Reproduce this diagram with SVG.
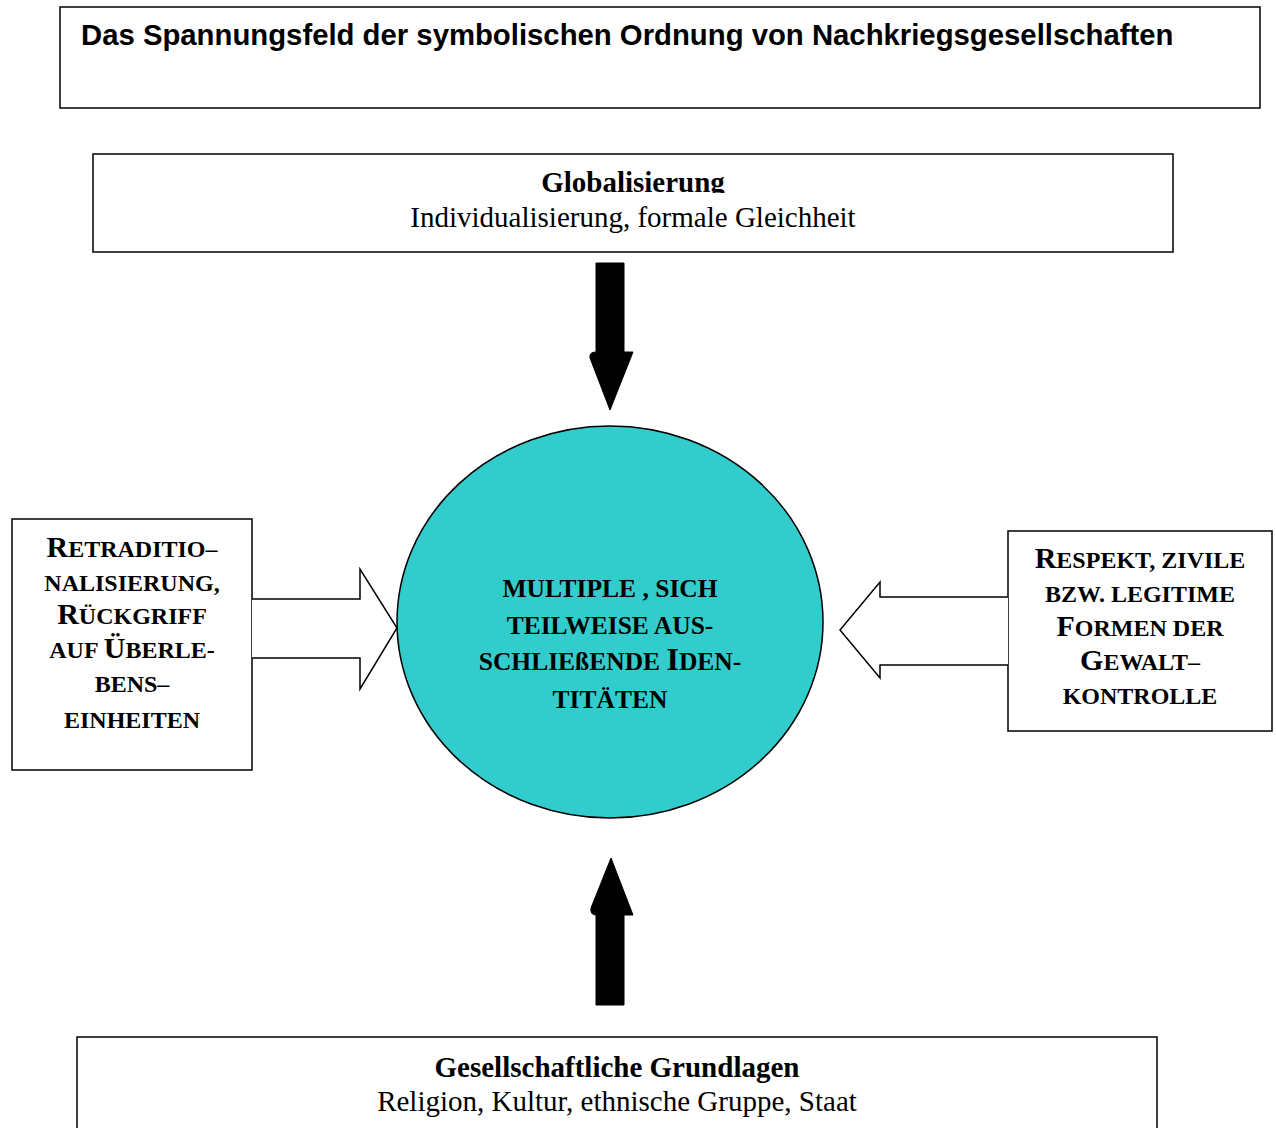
<svg xmlns="http://www.w3.org/2000/svg" width="1276" height="1128" viewBox="0 0 1276 1128">
  <style>
    .box { fill: #fff; stroke: #000; stroke-width: 1.5; }
    .title { font-family: "Liberation Sans", Arial, sans-serif; font-weight: bold; font-size: 29.3px; }
    .serif { font-family: "Liberation Serif", "Times New Roman", serif; font-size: 29px; text-anchor: middle; }
    .b { font-weight: bold; }
    .sc { font-family: "Liberation Serif", "Times New Roman", serif; font-weight: bold; font-size: 24px; text-anchor: middle; }
    .cap { font-size: 30px; }
    .mid { font-size: 25.5px; }
    .mid .cap { font-size: 32px; }
    .hollow { fill: #fff; stroke: #000; stroke-width: 1.5; stroke-linejoin: miter; }
    .solid { fill: #000; stroke: #000; stroke-width: 1; }
  </style>
  <defs>
    <!-- heading line of the top box is cut off just under its baseline -->
    <clipPath id="headClip">
      <rect x="93" y="154" width="1080" height="39"/>
    </clipPath>
  </defs>

  <rect width="1276" height="1128" fill="#fff"/>

  <g id="title">
    <rect class="box" x="60" y="7" width="1200" height="101"/>
    <text class="title" x="81" y="45">Das Spannungsfeld der symbolischen Ordnung von Nachkriegsgesellschaften</text>
  </g>

  <g id="globalisierung">
    <rect class="box" x="93" y="154" width="1080" height="98"/>
    <text class="serif b" x="633" y="192" clip-path="url(#headClip)">Globalisierung</text>
    <text class="serif" x="633" y="227">Individualisierung, formale Gleichheit</text>
  </g>

  <g id="identitaeten">
    <ellipse cx="610" cy="622" rx="213" ry="196" fill="#33cccc" stroke="#000" stroke-width="1.5"/>
    <text class="sc mid" x="610" y="597">MULTIPLE , SICH</text>
    <text class="sc mid" x="610" y="634">TEILWEISE AUS-</text>
    <text class="sc mid" x="610" y="670">SCHLIEßENDE <tspan class="cap">I</tspan>DEN-</text>
    <text class="sc mid" x="610" y="708">TITÄTEN</text>
  </g>

  <g id="retraditionalisierung">
    <rect class="box" x="12" y="519" width="240" height="251"/>
    <text class="sc" x="132" y="557"><tspan class="cap">R</tspan>ETRADITIO–</text>
    <text class="sc" x="132" y="591">NALISIERUNG,</text>
    <text class="sc" x="132" y="624"><tspan class="cap">R</tspan>ÜCKGRIFF</text>
    <text class="sc" x="132" y="658">AUF <tspan class="cap">Ü</tspan>BERLE-</text>
    <text class="sc" x="132" y="692">BENS–</text>
    <text class="sc" x="132" y="728">EINHEITEN</text>
  </g>

  <g id="respekt">
    <rect class="box" x="1008" y="531" width="264" height="200"/>
    <text class="sc" x="1140" y="568"><tspan class="cap">R</tspan>ESPEKT, ZIVILE</text>
    <text class="sc" x="1140" y="602">BZW. LEGITIME</text>
    <text class="sc" x="1140" y="636"><tspan class="cap">F</tspan>ORMEN DER</text>
    <text class="sc" x="1140" y="670"><tspan class="cap">G</tspan>EWALT–</text>
    <text class="sc" x="1140" y="704">KONTROLLE</text>
  </g>

  <g id="gesellschaft">
    <rect class="box" x="77" y="1037" width="1080" height="100"/>
    <text class="serif b" x="617" y="1077">Gesellschaftliche Grundlagen</text>
    <text class="serif" x="617" y="1111">Religion, Kultur, ethnische Gruppe, Staat</text>
  </g>

  <g id="connectors">
    <!-- solid block arrows, top and bottom -->
    <path class="solid" d="M596,263 H624 V352 H633 L610,410 L590,358 Q589,352 596,352 Z"/>
    <path class="solid" d="M596,1005 H624 V915 H633 L611,858 L591,908 Q590,915 596,915 Z"/>
    <!-- hollow block arrows, left and right -->
    <path class="hollow" d="M252,599 H360 V569 L397,628 L360,689 V658 H252"/>
    <path class="hollow" d="M1008,597 H880 V582 L840,630 L880,678 V665 H1008"/>
  </g>
</svg>
